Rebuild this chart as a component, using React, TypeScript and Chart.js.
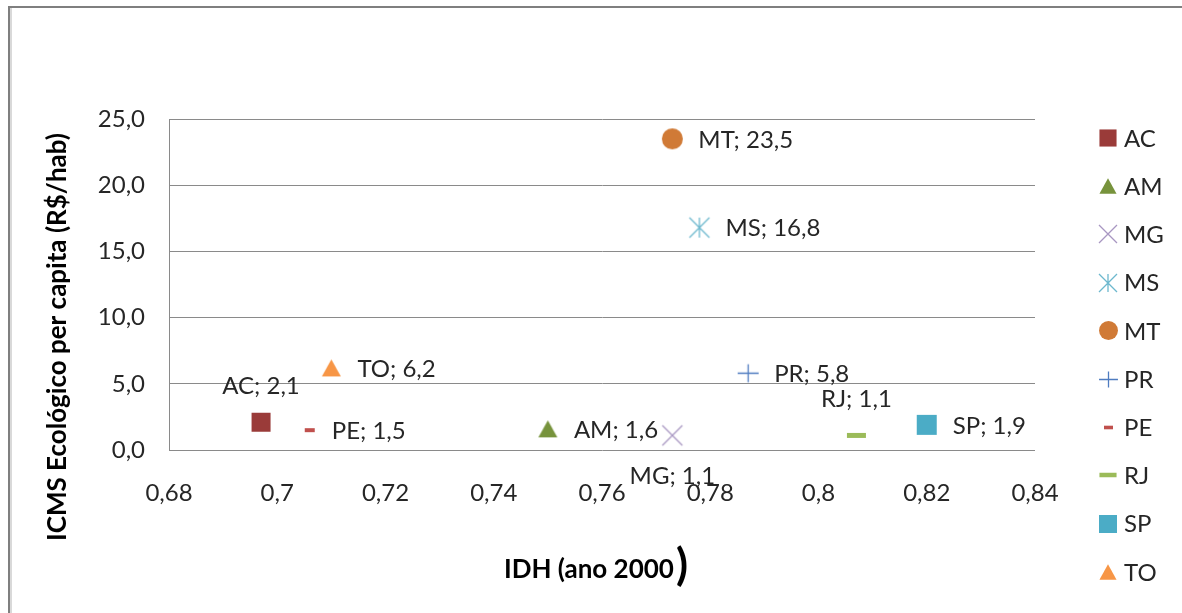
import React, { useEffect, useRef } from "react";
import { Chart, registerables } from "chart.js";

Chart.register(...registerables);

// ---- data ----
const states = ["AC", "AM", "MG", "MS", "MT", "PR", "PE", "RJ", "SP", "TO"];
const idh = [0.697, 0.75, 0.773, 0.778, 0.773, 0.787, 0.706, 0.807, 0.82, 0.71];
const icms = [2.1, 1.6, 1.1, 16.8, 23.5, 5.8, 1.5, 1.1, 1.9, 6.2];
const xTickValues = [0.68, 0.7, 0.72, 0.74, 0.76, 0.78, 0.8, 0.82, 0.84];
const yTickValues = [0, 5, 10, 15, 20, 25];
const xTitle = "IDH (ano 2000";
const xTitleClose = ")";
const yTitle = "ICMS Ecológico per capita (R$/hab)";

// ---- styles ----
type MarkerSpec = { kind: string; color: string; size: number; thick?: number };
const markerStyles: Record<string, MarkerSpec> = {
  AC: { kind: "square", color: "#9A3B39", size: 19 },
  AM: { kind: "triangle", color: "#77933C", size: 19 },
  MG: { kind: "x", color: "#A897C2", size: 20 },
  MS: { kind: "asterisk", color: "#6DB8CE", size: 20 },
  MT: { kind: "circle", color: "#D07A36", size: 21 },
  PR: { kind: "plus", color: "#4F7CC0", size: 21 },
  PE: { kind: "dash", color: "#C0504D", size: 10, thick: 4 },
  RJ: { kind: "dash", color: "#9BBB59", size: 19, thick: 5 },
  SP: { kind: "square", color: "#4BACC6", size: 20 },
  TO: { kind: "triangle", color: "#F79646", size: 19 },
};
const labelPlacement: Record<string, string> = {
  AC: "above",
  RJ: "above",
  MG: "below",
};

const FONT = "Lato, 'Open Sans', sans-serif";
const TEXT = "#262626";
const GRID = "#8a8a8a";
const FS = 24;

function fmtComma(v: number, digits?: number): string {
  const s = digits === undefined ? String(Number(v.toFixed(2))) : v.toFixed(digits);
  return s.replace(".", ",");
}

function makeMarker(spec: MarkerSpec, scale = 1): HTMLCanvasElement {
  const s = spec.size * scale;
  const c = document.createElement("canvas");
  const w = Math.ceil(s) + 4;
  c.width = w;
  c.height = w;
  const ctx = c.getContext("2d")!;
  const m = w / 2;
  ctx.fillStyle = spec.color;
  ctx.strokeStyle = spec.color;
  ctx.lineWidth = 1.3;
  const h = s / 2;
  switch (spec.kind) {
    case "square":
      ctx.fillRect(m - h, m - h, s, s);
      break;
    case "triangle": {
      const th = s * 0.9;
      ctx.beginPath();
      ctx.moveTo(m, m - th / 2);
      ctx.lineTo(m + h, m + th / 2);
      ctx.lineTo(m - h, m + th / 2);
      ctx.closePath();
      ctx.fill();
      break;
    }
    case "circle":
      ctx.beginPath();
      ctx.arc(m, m, h, 0, Math.PI * 2);
      ctx.fill();
      break;
    case "x":
      ctx.beginPath();
      ctx.moveTo(m - h, m - h);
      ctx.lineTo(m + h, m + h);
      ctx.moveTo(m + h, m - h);
      ctx.lineTo(m - h, m + h);
      ctx.stroke();
      break;
    case "asterisk":
      ctx.beginPath();
      ctx.moveTo(m - h, m - h);
      ctx.lineTo(m + h, m + h);
      ctx.moveTo(m + h, m - h);
      ctx.lineTo(m - h, m + h);
      ctx.moveTo(m, m - h);
      ctx.lineTo(m, m + h);
      ctx.stroke();
      break;
    case "plus":
      ctx.beginPath();
      ctx.moveTo(m - h, m);
      ctx.lineTo(m + h, m);
      ctx.moveTo(m, m - h * 0.85);
      ctx.lineTo(m, m + h * 0.85);
      ctx.stroke();
      break;
    case "dash": {
      const t = (spec.thick || 4) * scale;
      ctx.fillRect(m - h, m - t / 2, s, t);
      break;
    }
  }
  return c;
}

export default function App() {
  const ref = useRef<HTMLCanvasElement | null>(null);

  useEffect(() => {
    if (!ref.current) return;
    document.body.style.margin = "0";
    document.body.style.overflow = "hidden";
    const markers = states.map((s) => makeMarker(markerStyles[s]));
    const legendMarkers = states.map((s) => makeMarker(markerStyles[s], 0.9));

    const decor = {
      id: "decor",
      beforeDraw(chart: any) {
        const ctx = chart.ctx as CanvasRenderingContext2D;
        ctx.save();
        ctx.fillStyle = "#ffffff";
        ctx.fillRect(0, 0, chart.width, chart.height);
        // outer chart frame (top and left edges inside the window)
        ctx.fillStyle = "#d9d9d9";
        ctx.fillRect(10, 8, 2, chart.height - 8);
        ctx.fillStyle = "#7f7f7f";
        ctx.fillRect(8, 6, chart.width - 8, 2);
        ctx.fillRect(8, 6, 2, chart.height - 6);
        ctx.restore();
      },
      afterDraw(chart: any) {
        const ctx = chart.ctx as CanvasRenderingContext2D;
        ctx.save();
        // data labels
        ctx.font = `${FS}px ${FONT}`;
        ctx.fillStyle = TEXT;
        chart.data.datasets.forEach((ds: any, i: number) => {
          const el = chart.getDatasetMeta(i).data[0];
          if (!el) return;
          const name = states[i];
          const txt = `${name}; ${fmtComma(icms[i], 1)}`;
          const place = labelPlacement[name] || "right";
          ctx.textBaseline = "middle";
          if (place === "above") {
            ctx.textAlign = "center";
            ctx.fillText(txt, el.x, el.y - 36);
          } else if (place === "below") {
            ctx.textAlign = "center";
            ctx.fillText(txt, el.x, el.y + 41);
          } else {
            ctx.textAlign = "left";
            const off = markerStyles[name].kind === "dash" && markerStyles[name].size < 12 ? 22 : 26;
            ctx.fillText(txt, el.x + off, el.y + 1);
          }
        });
        // legend
        const lx = 1108;
        const ly0 = 138;
        const step = 48.2;
        states.forEach((s, i) => {
          const y = ly0 + i * step;
          const mk = legendMarkers[i];
          ctx.drawImage(mk, Math.round(lx - mk.width / 2), Math.round(y - mk.height / 2));
          ctx.textAlign = "left";
          ctx.textBaseline = "middle";
          ctx.fillStyle = TEXT;
          ctx.font = `${FS}px ${FONT}`;
          ctx.fillText(s, 1124, y + 1);
        });
        // axis titles
        ctx.fillStyle = "#000";
        ctx.textBaseline = "middle";
        ctx.font = `bold 26px ${FONT}`;
        const tw = ctx.measureText(xTitle).width;
        ctx.font = `bold 44px ${FONT}`;
        const cw = ctx.measureText(xTitleClose).width;
        const startX = 596 - (tw + cw + 2) / 2;
        ctx.font = `bold 26px ${FONT}`;
        ctx.textAlign = "left";
        ctx.fillText(xTitle, startX, 570);
        ctx.font = `bold 44px ${FONT}`;
        ctx.fillText(xTitleClose, startX + tw + 2, 566);

        ctx.translate(58, 337);
        ctx.rotate(-Math.PI / 2);
        ctx.font = `bold 26px ${FONT}`;
        ctx.textAlign = "center";
        ctx.fillText(yTitle, 0, 0);
        ctx.restore();
      },
    };

    const chart = new Chart(ref.current, {
      type: "scatter",
      data: {
        datasets: states.map((s, i) => ({
          label: s,
          data: [{ x: idh[i], y: icms[i] }],
          pointStyle: markers[i] as any,
          pointRadius: 10,
          pointHoverRadius: 10,
          backgroundColor: markerStyles[s].color,
          borderColor: markerStyles[s].color,
          showLine: false,
        })),
      },
      options: {
        animation: false,
        responsive: false,
        devicePixelRatio: 1,
        events: [],
        layout: { padding: { left: 0, top: 119, right: 147, bottom: 0 } },
        plugins: {
          legend: { display: false },
          tooltip: { enabled: false },
          title: { display: false },
        },
        scales: {
          x: {
            type: "linear",
            min: xTickValues[0],
            max: xTickValues[xTickValues.length - 1],
            afterBuildTicks: (scale: any) => {
              scale.ticks = xTickValues.map((v) => ({ value: v }));
            },
            afterFit: (scale: any) => {
              scale.height = 163;
            },
            grid: { display: false, drawTicks: false },
            border: { display: false },
            ticks: {
              padding: 29,
              color: TEXT,
              font: { family: FONT, size: FS },
              maxRotation: 0,
              autoSkip: false,
              callback: (v: any) => fmtComma(Number(v)),
            },
          },
          y: {
            type: "linear",
            min: yTickValues[0],
            max: yTickValues[yTickValues.length - 1],
            afterBuildTicks: (scale: any) => {
              scale.ticks = yTickValues.map((v) => ({ value: v }));
            },
            afterFit: (scale: any) => {
              scale.width = 169;
            },
            grid: { color: GRID, lineWidth: 1, drawTicks: false },
            border: { display: true, color: GRID, width: 1 },
            ticks: {
              padding: 24,
              color: TEXT,
              font: { family: FONT, size: FS },
              callback: (v: any) => fmtComma(Number(v), 1),
            },
          },
        },
      },
      plugins: [decor],
    } as any);

    return () => chart.destroy();
  }, []);

  return (
    <div style={{ width: 1182, height: 613, overflow: "hidden" }}>
      <canvas
        ref={ref}
        width={1182}
        height={613}
        style={{ display: "block", width: 1182, height: 613 }}
      />
    </div>
  );
}
